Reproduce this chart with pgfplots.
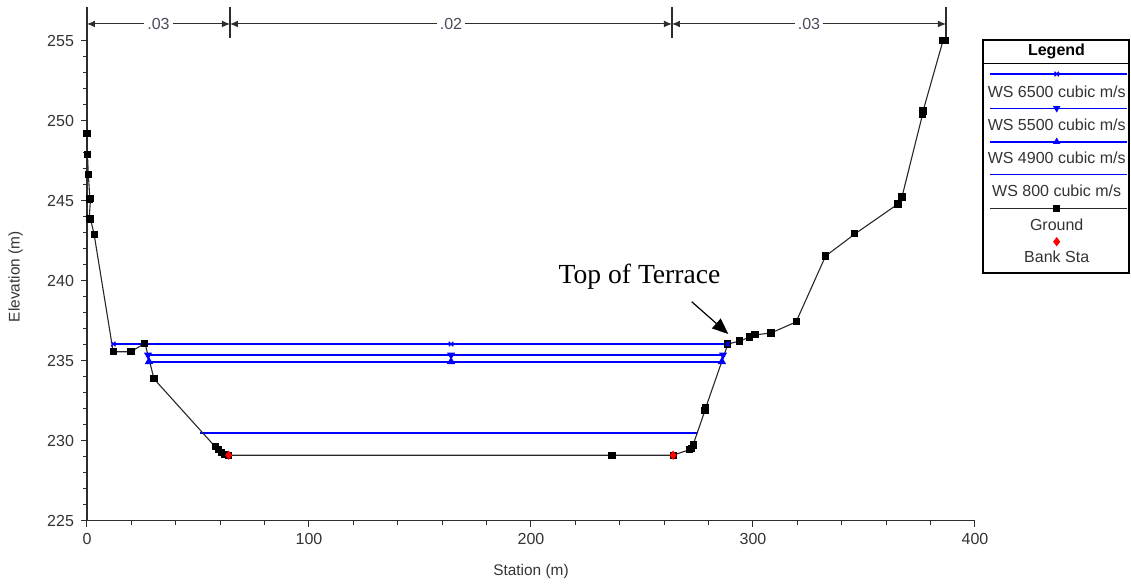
\documentclass[border=0pt]{standalone}
\usepackage{fontspec}
\setmainfont{Liberation Sans}
\newfontfamily\seriffont{Liberation Serif}
\usepackage{pgfplots}
\pgfplotsset{compat=1.18}
\usetikzlibrary{arrows.meta}
\definecolor{wsblue}{RGB}{0,0,255}
\definecolor{axgray}{RGB}{45,45,45}
\definecolor{gnd}{RGB}{40,40,40}
\definecolor{nlab}{RGB}{75,75,95}
\begin{document}
\begin{tikzpicture}
\useasboundingbox (-43.5pt,-32.65pt) rectangle (522pt,260.35pt);
\begin{axis}[
  at={(0,0)}, anchor=south west,
  scale only axis, width=444pt, height=256.85pt,
  xmin=0, xmax=400, ymin=225, ymax=257.1,
  axis lines=left, axis line style={-, axgray, line width=0.6pt},
  clip=false,
  tick align=outside,
  major tick length=3pt, minor tick length=2pt,
  tick style={axgray, line width=0.5pt},
  xtick={0,100,200,300,400}, ytick={225,230,235,240,245,250,255},
  minor xtick={20,40,...,380}, minor ytick={226,227,...,254},
  /pgf/number format/assume math mode=true,
  ticklabel style={font=\fontsize{8}{9}\selectfont, text=black!80},
  xlabel={Station (m)}, ylabel={Elevation (m)},
  label style={font=\fontsize{7.7}{9}\selectfont, text=black!80},
  xlabel style={at={(axis description cs:0.5,-0.098)}, anchor=center},
  ylabel style={at={(axis description cs:-0.0803,0.475)}, anchor=center},
]
% water surfaces
\addplot[wsblue, line width=0.9pt] coordinates {(50.9,230.5) (274.8,230.5)};
\addplot[wsblue, line width=0.9pt, mark=triangle*, mark size=1.5pt, mark options={solid, fill=wsblue}] coordinates {(27.9,234.94) (164,234.94) (286,234.94)};
\addplot[wsblue, line width=0.9pt, mark=triangle*, mark size=1.5pt, mark options={solid, fill=wsblue, rotate=180}] coordinates {(27.5,235.36) (164,235.36) (286.5,235.36)};
% ground
\addplot[gnd, line width=0.55pt, mark=square*, mark size=1.5pt, mark options={solid, fill=black, draw=black}] coordinates {
(0,249.2) (0.2,247.9) (0.6,246.65) (1.3,245.1) (1.6,245.15) (1.0,243.9) (1.6,243.85) (3.2,242.9)
(11.8,235.56) (19.8,235.56) (26.1,236.09) (30.2,233.86) (57.7,229.63) (59.1,229.46) (60.7,229.28)
(62,229.15) (63.8,229.09) (236.5,229.09) (264,229.09) (271.6,229.45) (272.5,229.54) (273,229.73)
(278.4,231.9) (278.8,232.1) (288.7,236.04) (294.1,236.23) (298.6,236.48) (300.9,236.61) (308.1,236.73)
(319.4,237.42) (332.7,241.54) (345.9,242.92) (365.3,244.79) (367.1,245.23) (376.4,250.4) (376.6,250.6)
(385.6,255.0) (386.9,255.0)};
\addplot[wsblue, line width=0.9pt, mark=x, mark size=1.6pt, mark options={solid, line width=0.6pt}] coordinates {(11.8,236.04) (164,236.04) (288.7,236.04)};
% bank stations
\addplot[only marks, mark=diamond*, mark size=2pt, red, mark options={fill=red, draw=red}] coordinates {(63.8,229.09) (264,229.09)};
% roughness annotation
\draw[axgray, line width=0.6pt] (axis cs:64.4,255.17) -- (axis cs:64.4,257.1);
\draw[axgray, line width=0.6pt] (axis cs:263.5,255.17) -- (axis cs:263.5,257.1);
\draw[axgray, line width=0.6pt] (axis cs:386.9,255.17) -- (axis cs:386.9,257.1);
\draw[axgray, line width=0.5pt, {Latex[length=4pt,width=3.4pt]}-{Latex[length=4pt,width=3.4pt]}] (axis cs:0,256.04) -- node[fill=white, inner sep=1.5pt, text=nlab, font=\fontsize{8}{9}\selectfont] {.03} (axis cs:64.4,256.04);
\draw[axgray, line width=0.5pt, {Latex[length=4pt,width=3.4pt]}-{Latex[length=4pt,width=3.4pt]}] (axis cs:64.4,256.04) -- node[fill=white, inner sep=1.5pt, text=nlab, font=\fontsize{8}{9}\selectfont] {.02} (axis cs:263.5,256.04);
\draw[axgray, line width=0.5pt, {Latex[length=4pt,width=3.4pt]}-{Latex[length=4pt,width=3.4pt]}] (axis cs:263.5,256.04) -- node[fill=white, inner sep=1.5pt, text=nlab, font=\fontsize{8}{9}\selectfont] {.03} (axis cs:386.9,256.04);
\end{axis}
\begin{scope}[shift={(-43.5pt,260.35pt)}, x=0.5pt, y=-0.5pt]
% Top of terrace
\node[anchor=base, inner sep=0pt, font=\seriffont\fontsize{13.8}{15}\selectfont] at (639.5,283) {Top of Terrace};
\draw[black, line width=0.6pt, -{Triangle[length=8pt,width=6.5pt]}] (691.7,301.7) -- (728.3,334);
% legend
\draw[black, line width=0.9pt, fill=white] (983,40) rectangle (1129,273.3);
\draw[black, line width=0.6pt] (983,63.3) -- (1129,63.3);
\node[font=\bfseries\fontsize{8}{9}\selectfont] at (1056.5,51.7) {Legend};
\begin{scope}[font=\fontsize{8}{9}\selectfont, text=black!80]
\draw[wsblue, line width=0.8pt] (990,74) -- (1126.7,74);
\draw[wsblue, line width=0.6pt] plot[mark=x, mark size=1.6pt] coordinates {(1056.7,74)};
\node at (1056.7,91.7) {WS 6500 cubic m/s};
\draw[wsblue, line width=0.8pt] (990,108.3) -- (1126.7,108.3);
\path plot[mark=triangle*, mark size=1.7pt, mark options={fill=wsblue, draw=wsblue, rotate=180}] coordinates {(1056.7,108.3)};
\node at (1056.7,124.3) {WS 5500 cubic m/s};
\draw[wsblue, line width=0.8pt] (990,141.7) -- (1126.7,141.7);
\path plot[mark=triangle*, mark size=1.7pt, mark options={fill=wsblue, draw=wsblue}] coordinates {(1056.7,141.7)};
\node at (1056.7,157.7) {WS 4900 cubic m/s};
\draw[wsblue, line width=0.8pt] (990,174.3) -- (1126.7,174.3);
\node at (1056.7,191) {WS 800 cubic m/s};
\draw[gnd, line width=0.5pt] (990,208.3) -- (1126.7,208.3);
\path plot[mark=square*, mark size=1.5pt, mark options={fill=black, draw=black}] coordinates {(1056.7,208.3)};
\node at (1056.7,225) {Ground};
\path plot[mark=diamond*, mark size=2pt, mark options={fill=red, draw=red}] coordinates {(1056.7,241.7)};
\node at (1056.7,256.7) {Bank Sta};
\end{scope}
\end{scope}
\end{tikzpicture}
\end{document}
